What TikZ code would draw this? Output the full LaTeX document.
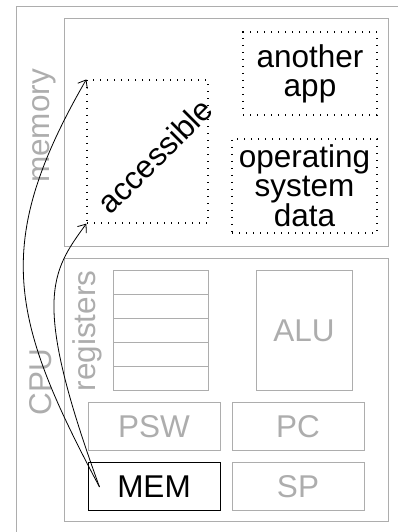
\documentclass[tikz,border=0pt]{standalone}
\usepackage{fontspec}
\setmainfont{Liberation Sans}
\usetikzlibrary{arrows.meta}

\definecolor{hwgray}{gray}{0.68}

\begin{document}
\begin{tikzpicture}[%
        x = 1pt, y = 1pt,
        line width = 1pt,
        > = {Straight Barb[length = 7pt, width = 11pt]},
        font = \fontsize{31.5}{29}\selectfont,
        frame/.style = {draw = hwgray, inner sep = 0pt},
        part/.style = {
            frame, text = hwgray,
            minimum width = 132pt, minimum height = 48pt
        },
        zone/.style = {
            draw, line width = 1.25pt,
            dash pattern = on 1.25pt off 5.75pt,
            align = center, inner sep = 0pt
        },
        sidelabel/.style = {text = hwgray, rotate = 90, inner sep = 0pt},
        pointer/.style = {->, line width = 0.8pt}
    ]

        % Keep the page to the size of the reference.
        \clip (0, 0) rectangle (398, 532);
        \draw[hwgray] (16, 525) rectangle (410, -10);

        % Memory with its three regions.
        \node[frame, minimum width = 324pt, minimum height = 228pt] (memory) at (226, 399) {};
        \node[sidelabel] (memorylabel) at (44, 406) {memory};
        \node[zone, minimum width = 121pt, minimum height = 143pt] (acc) at (147.5, 380.5) {};
        \node[rotate = 45, inner sep = 0pt] (acctext) at (155, 376) {accessible};
        \node[zone, minimum width = 134pt, minimum height = 83pt] (app) at (310, 458.5) {another\\app};
        \node[zone, minimum width = 145pt, minimum height = 94pt] (osdata) at (304.5, 346) {operating\\system\\data};

        % The CPU and its registers.
        \node[frame, minimum width = 324pt, minimum height = 263pt] (cpu) at (226, 141.5) {};
        \node[sidelabel] (cpulabel) at (41, 150) {CPU};
        \node[sidelabel] (reglabel) at (87, 201) {registers};
        \foreach \i/\y in {1/249, 2/225, 3/201, 4/177, 5/153}
            \node[frame, minimum width = 95pt, minimum height = 24pt] (reg\i) at (160.5, \y) {};
        \node[part, minimum width = 96pt, minimum height = 120pt] (alu) at (304, 201) {ALU};
        \node[part] (psw) at (154, 105) {PSW};
        \node[part] (pc) at (298, 105) {PC};
        \node[part, draw = black, text = black] (mem) at (154, 45) {MEM};
        \node[part] (sp) at (298, 45) {SP};

        % MEM points at both ends of the accessible region.
        \coordinate (memptr) at ([xshift = 12pt]mem.west);
        \draw[pointer] (memptr) .. controls +(118:190) and +(240:190) .. (acc.north west);
        \draw[pointer] (memptr) .. controls +(110:200) and +(234:60) .. (acc.south west);
    \end{tikzpicture}
\end{document}
